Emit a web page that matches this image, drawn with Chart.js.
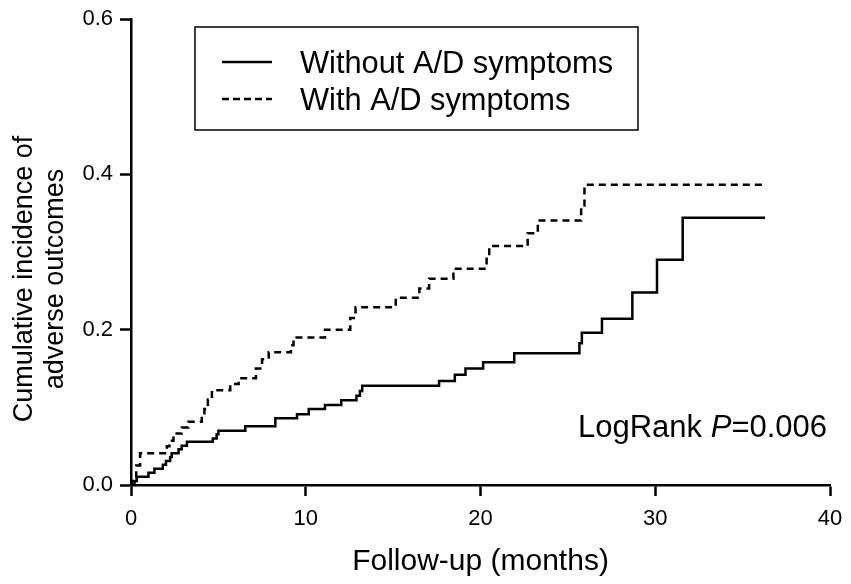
<!DOCTYPE html>
<html>
<head>
<meta charset="utf-8">
<script src="https://cdn.jsdelivr.net/npm/chart.js@4.4.1/dist/chart.umd.min.js"></script>
<style>
  body { margin: 0; background: #fff; }
  canvas { display: block; }
</style>
</head>
<body>
<canvas id="kmChart" width="851" height="584"></canvas>
<script>
// step curve data (month of event, cumulative incidence after it)
const monthsWithout = [0, 0.04, 0.33, 1.0, 1.34, 1.82, 2.0, 2.24, 2.33, 2.72, 2.9, 3.2, 4.68, 4.9, 5.0, 6.54, 8.26, 9.5, 10.17, 11.1, 12.03, 12.9, 13.1, 13.23, 17.63, 18.53, 19.14, 20.15, 21.93, 25.66, 25.8, 26.95, 28.69, 30.1, 31.57, 36.28];
const cumWithout = [0, 0.005, 0.0107, 0.0158, 0.021, 0.026, 0.031, 0.036, 0.041, 0.046, 0.0505, 0.0557, 0.06, 0.0655, 0.070, 0.0758, 0.086, 0.091, 0.0977, 0.103, 0.109, 0.115, 0.121, 0.1277, 0.134, 0.142, 0.150, 0.158, 0.1697, 0.1825, 0.196, 0.214, 0.248, 0.290, 0.344, 0.344];

const monthsWith = [0, 0.2, 0.3, 0.52, 2.05, 2.2, 2.43, 2.9, 3.29, 4.05, 4.2, 4.4, 4.63, 5.68, 6.16, 7.15, 7.5, 7.88, 9.15, 9.3, 11.1, 12.55, 12.85, 15.15, 16.5, 17.06, 18.45, 20.35, 20.5, 22.7, 23.28, 25.76, 25.95, 36.37];
const cumWith = [0, 0.01, 0.025, 0.041, 0.05, 0.057, 0.0664, 0.074, 0.0814, 0.09, 0.0977, 0.11, 0.122, 0.130, 0.1375, 0.15, 0.162, 0.171, 0.18, 0.190, 0.200, 0.215, 0.229, 0.241, 0.253, 0.2657, 0.2785, 0.294, 0.3076, 0.324, 0.3406, 0.36, 0.3865, 0.3865];

const seriesLabels = ['Without A/D symptoms', 'With A/D symptoms'];
const xTicks = [0, 10, 20, 30, 40];
const yTicks = [0.0, 0.2, 0.4, 0.6];

const FONT = '"Liberation Sans", Arial, sans-serif';

function toPoints(xs, ys) {
  return xs.map((x, i) => ({ x: x, y: ys[i] }));
}

// legend box, rotated y title and the log-rank note
const annotations = {
  id: 'annotations',
  afterDraw(chart) {
    const ctx = chart.ctx;
    ctx.save();

    // legend
    ctx.strokeStyle = '#000';
    ctx.lineWidth = 1.5;
    ctx.strokeRect(195, 27, 443, 103);
    chart.data.datasets.forEach((ds, i) => {
      const y = i === 0 ? 62 : 99;
      ctx.beginPath();
      ctx.lineWidth = 2.5;
      ctx.setLineDash(i === 0 ? [] : [7, 4]);
      ctx.moveTo(222, y);
      ctx.lineTo(272, y);
      ctx.stroke();
      ctx.setLineDash([]);
      ctx.fillStyle = '#000';
      ctx.font = '30.8px ' + FONT;
      ctx.textBaseline = 'alphabetic';
      ctx.textAlign = 'left';
      ctx.fillText(ds.label, 300, i === 0 ? 73 : 110);
    });

    // y axis title
    ctx.translate(0, 279);
    ctx.rotate(-Math.PI / 2);
    ctx.font = '27px ' + FONT;
    ctx.textAlign = 'center';
    ctx.fillText('Cumulative incidence of', 0, 32);
    ctx.fillText('adverse outcomes', 0, 63);
    ctx.setTransform(1, 0, 0, 1, 0, 0);

    // LogRank P
    ctx.textAlign = 'left';
    ctx.font = '31px ' + FONT;
    let x = 578;
    const a = 'LogRank ';
    ctx.fillText(a, x, 437);
    x += ctx.measureText(a).width;
    ctx.font = 'italic 31px ' + FONT;
    ctx.fillText('P', x, 437);
    x += ctx.measureText('P').width;
    ctx.font = '31px ' + FONT;
    ctx.fillText('=0.006', x, 437);

    ctx.restore();
  }
};

const ctx = document.getElementById('kmChart').getContext('2d');
const kmChart = new Chart(ctx, {
  type: 'line',
  data: {
    datasets: [{
      label: seriesLabels[0],
      data: toPoints(monthsWithout, cumWithout),
      stepped: true,
      borderColor: '#000',
      borderWidth: 2.5,
      pointRadius: 0,
      fill: false,
      clip: 4
    }, {
      label: seriesLabels[1],
      data: toPoints(monthsWith, cumWith),
      stepped: true,
      borderColor: '#000',
      borderWidth: 2.5,
      borderDash: [7, 5],
      pointRadius: 0,
      fill: false,
      clip: 4
    }]
  },
  options: {
    responsive: false,
    animation: false,
    devicePixelRatio: 1,
    layout: { padding: { left: 0, right: 21, top: 19, bottom: 0 } },
    plugins: { legend: { display: false }, tooltip: { enabled: false } },
    scales: {
      x: {
        type: 'linear',
        min: 0,
        max: 40,
        afterBuildTicks: (scale) => { scale.ticks = xTicks.map(v => ({ value: v })); },
        afterFit: (scale) => { scale.height = 99; scale.paddingLeft = 0; scale.paddingRight = 0; },
        ticks: { color: '#000', font: { family: FONT, size: 22 }, padding: 10, maxRotation: 0 },
        grid: { drawOnChartArea: false, drawTicks: true, tickLength: 11, tickWidth: 2.5, tickColor: '#000' },
        border: { display: true, color: '#000', width: 2.5 },
        title: { display: true, text: 'Follow-up (months)', color: '#000', font: { family: FONT, size: 30 }, padding: { top: 0, bottom: 4 } }
      },
      y: {
        min: 0,
        max: 0.6,
        afterBuildTicks: (scale) => { scale.ticks = yTicks.map(v => ({ value: v })); },
        afterFit: (scale) => { scale.width = 131; scale.paddingTop = 0; scale.paddingBottom = 0; },
        ticks: { color: '#000', font: { family: FONT, size: 22 }, padding: 7, callback: (v) => v.toFixed(1) },
        grid: { drawOnChartArea: false, drawTicks: true, tickLength: 11, tickWidth: 2.5, tickColor: '#000' },
        border: { display: true, color: '#000', width: 2.5 }
      }
    }
  },
  plugins: [annotations]
});
</script>
</body>
</html>
